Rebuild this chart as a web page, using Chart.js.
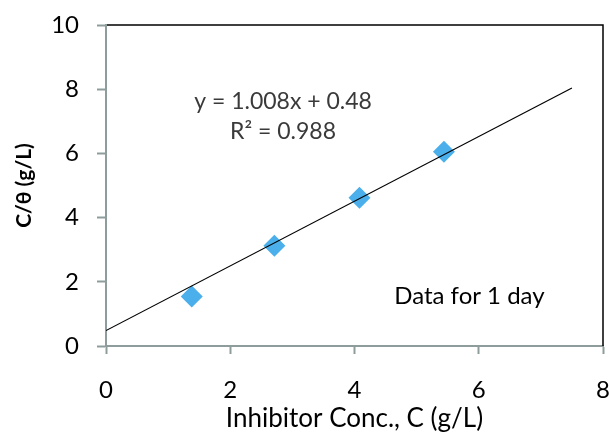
<!DOCTYPE html>
<html>
<head>
<meta charset="utf-8">
<script src="https://cdn.jsdelivr.net/npm/chart.js@4.4.1/dist/chart.umd.min.js"></script>
<style>
  html, body { margin:0; padding:0; background:#fff; }
  #wrap { width:609px; height:432px; }
</style>
</head>
<body>
<div id="wrap"><canvas id="chart" width="609" height="432"></canvas></div>
<script>
var concX = [1.38, 2.71, 4.08, 5.44];
var cThetaY = [1.54, 3.12, 4.62, 6.05];
// linear trendline ends, y = 1.008x + 0.48
var trendX = [0, 7.5];
var trendY = [0.48, 8.04];
var xTicks = [0, 2, 4, 6, 8];
var yTicks = [0, 2, 4, 6, 8, 10];
var eqText = 'y = 1.008x + 0.48';
var r2Text = 'R\u00B2 = 0.988';
var noteText = 'Data for 1 day';

var FONT = 'Lato, "Open Sans", sans-serif';
var axisGray = '#8e9c9c';

var pts = [];
for (var i = 0; i < concX.length; i++) pts.push({x: concX[i], y: cThetaY[i]});
var trend = [];
for (var j = 0; j < trendX.length; j++) trend.push({x: trendX[j], y: trendY[j]});

// frame on top / right + text labels
var extras = {
  id: 'extras',
  afterDraw: function(chart) {
    var ctx = chart.ctx, a = chart.chartArea;
    var xs = chart.scales.x, ys = chart.scales.y;
    ctx.save();
    ctx.strokeStyle = '#000';
    ctx.lineWidth = 1.5;
    ctx.beginPath();
    ctx.moveTo(a.left + 1, a.top);
    ctx.lineTo(a.right, a.top);
    ctx.lineTo(a.right, a.bottom);
    ctx.stroke();

    ctx.textAlign = 'center';
    ctx.textBaseline = 'middle';
    ctx.fillStyle = '#3a3a3a';
    ctx.font = '23px ' + FONT;
    ctx.fillText(eqText, xs.getPixelForValue(2.85), ys.getPixelForValue(7.6));
    ctx.fillText(r2Text, xs.getPixelForValue(2.85), ys.getPixelForValue(6.67));
    ctx.fillStyle = '#000';
    ctx.font = '24px ' + FONT;
    ctx.fillText(noteText, xs.getPixelForValue(5.85), ys.getPixelForValue(1.56));
    ctx.restore();
  }
};

new Chart(document.getElementById('chart').getContext('2d'), {
  type: 'scatter',
  data: {
    datasets: [{
      label: 'trend',
      type: 'line',
      data: trend,
      borderColor: '#000',
      borderWidth: 1.2,
      pointRadius: 0,
      fill: false
    }, {
      label: 'data',
      data: pts,
      pointStyle: 'rectRot',
      pointRadius: 11,
      pointHoverRadius: 11,
      backgroundColor: '#4aafea',
      borderColor: '#4aafea',
      borderWidth: 0
    }]
  },
  options: {
    responsive: false,
    animation: false,
    layout: { autoPadding: false, padding: { top: 25, right: 6, left: 0, bottom: 0 } },
    plugins: { legend: { display: false }, tooltip: { enabled: false } },
    scales: {
      x: {
        type: 'linear', min: 0, max: 8,
        afterBuildTicks: function(s) { s.ticks = xTicks.map(function(v){ return {value: v}; }); },
        afterFit: function(s) { s.height = 86; s.paddingRight = 0; s.paddingLeft = 0; },
        grid: { display: true, drawOnChartArea: false, drawTicks: true, tickLength: 8, color: axisGray, tickColor: axisGray, tickWidth: 2 },
        border: { display: true, color: axisGray, width: 2 },
        ticks: { color: '#000', font: { family: FONT, size: 24 }, padding: 22, maxRotation: 0 },
        title: { display: true, text: 'Inhibitor Conc., C (g/L)', color: '#000', font: { family: FONT, size: 26 }, padding: { top: 0, bottom: -2 } }
      },
      y: {
        type: 'linear', min: 0, max: 10,
        afterBuildTicks: function(s) { s.ticks = yTicks.map(function(v){ return {value: v}; }); },
        afterFit: function(s) { s.width = 106; s.paddingTop = 0; s.paddingBottom = 0; },
        grid: { display: true, drawOnChartArea: false, drawTicks: true, tickLength: 9, color: axisGray, tickColor: axisGray, tickWidth: 2 },
        border: { display: true, color: axisGray, width: 2 },
        ticks: { color: '#000', font: { family: FONT, size: 24 }, padding: 18 },
        title: { display: true, text: 'C/\u03B8 (g/L)', color: '#000', font: { family: FONT, size: 21, weight: 'bold' }, padding: { top: 12, bottom: 0 } }
      }
    }
  },
  plugins: [extras]
});
</script>
</body>
</html>
